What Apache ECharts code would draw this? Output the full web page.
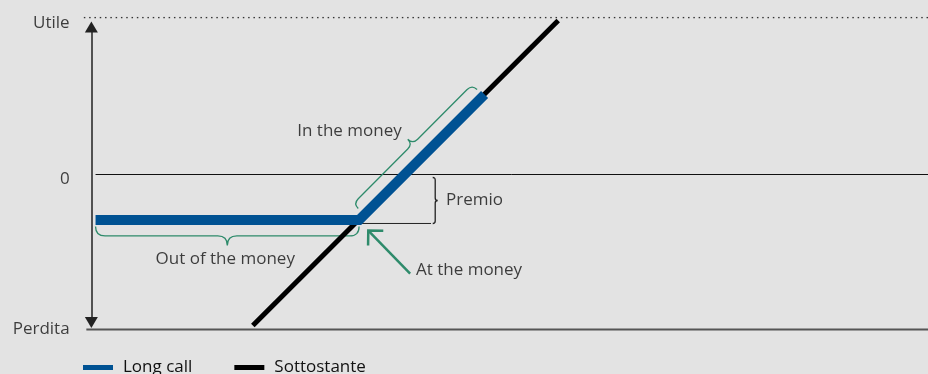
<!DOCTYPE html>
<html>
<head>
<meta charset="utf-8">
<script src="https://cdn.jsdelivr.net/npm/echarts@6/dist/echarts.min.js"></script>
<style>
  html, body { margin: 0; padding: 0; background: #e3e3e3; }
  #chart { width: 928px; height: 374px; }
</style>
</head>
<body>
<div id="chart"></div>
<script>
// payoff lines (x = underlying price, y = profit), abstract units
const longCallX = [0.5, 32, 47];
const longCallY = [-29, -29, 51];
const underlyingX = [19.3, 55.8];
const underlyingY = [-96.2, 98.1];

// horizontal guide levels: Utile / 0 / Perdita
const levelNames = ['Utile', '0', 'Perdita'];
const levelY = [100, 0, -98.7];
const levelStartX = [-0.9, 0.5, -0.6];
const levelEndX = [100, 100, 100];
const levelLabelY = [96.5, -3.2, -98.7];

// premium marker line at strike level
const premiumLineX = [32, 40.6];
const premiumLineY = [-31.2, -31.2];

// braces: from / to
const braceFrom = [[0.5, -33.1], [31.9, -21.7], [40.8, -1.9]];
const braceTo = [[32, -33.1], [46.1, 54.1], [40.8, -31.2]];

// arrow pointing at the strike
const atmArrowFrom = [38.1, -63.1];
const atmArrowTo = [33.1, -35.7];

// annotation texts
const noteText = ['In the money', 'Premio', 'Out of the money', 'At the money'];
const noteX = [37.1, 42.4, 16.0, 38.8];
const noteY = [27.4, -16.6, -54.1, -61.1];

const GREEN = '#2e8b6b';
const BLUE = '#005293';
const TEXT = '#111111';
const FONT = 'Open Sans';
const FONT_SIZE = 17;

const braceStyle = [
  {color: GREEN, w: 9.5, side: 1},
  {color: GREEN, w: 7, side: -1},
  {color: '#222', w: 2.5, side: -1}
];
const noteAlign = ['right', 'left', 'center', 'left'];

const myChart = echarts.init(document.getElementById('chart'));

function segment(xs, ys, style, z) {
  return {
    type: 'line', data: xs.map((x, i) => [x, ys[i]]),
    symbol: 'none', silent: true, lineStyle: style, z: z || 1
  };
}

function bracePath(a, b, w, side) {
  const dx = b[0] - a[0], dy = b[1] - a[1];
  const len = Math.hypot(dx, dy);
  const ux = dx / len, uy = dy / len;
  const nx = -uy * side, ny = ux * side;
  const p = (base, su, sn) => (base[0] + ux * su + nx * sn).toFixed(2) + ' ' + (base[1] + uy * su + ny * sn).toFixed(2);
  const m = [(a[0] + b[0]) / 2, (a[1] + b[1]) / 2];
  return 'M' + a[0] + ' ' + a[1] +
    ' Q' + p(a, 0, w) + ' ' + p(a, w, w) +
    ' L' + p(m, -w, w) +
    ' Q' + p(m, 0, w) + ' ' + p(m, 0, 2 * w) +
    ' Q' + p(m, 0, w) + ' ' + p(m, w, w) +
    ' L' + p(b, -w, w) +
    ' Q' + p(b, 0, w) + ' ' + b[0] + ' ' + b[1];
}

const series = [];

// guide levels
levelNames.forEach((name, i) => {
  const style = i === 0 ? {color: '#333', width: 1.5, type: [1.5, 3.8]}
    : i === 1 ? {color: '#111', width: 1} : {color: '#555', width: 2};
  series.push(segment([levelStartX[i], levelEndX[i]], [levelY[i], levelY[i]], style));
});

// vertical axis with arrows
series.push({
  type: 'line', data: [], silent: true,
  markLine: {
    silent: true, animation: false,
    symbol: ['triangle', 'triangle'], symbolSize: [13, 11],
    label: {show: false},
    lineStyle: {color: '#222', width: 1.5, type: 'solid'},
    data: [[{coord: [0, levelY[2] + 4.5]}, {coord: [0, levelY[0] - 6]}]]
  }
});

series.push(segment(premiumLineX, premiumLineY, {color: '#222', width: 1}));

// braces
series.push({
  type: 'custom', silent: true, z: 2,
  data: braceFrom.map((f, i) => [f[0], f[1], braceTo[i][0], braceTo[i][1]]),
  renderItem: (params, api) => {
    const a = api.coord([api.value(0), api.value(1)]);
    const b = api.coord([api.value(2), api.value(3)]);
    const st = braceStyle[params.dataIndex];
    return {
      type: 'path',
      shape: {pathData: bracePath(a, b, st.w, st.side)},
      style: {stroke: st.color, fill: 'none', lineWidth: 1.3}
    };
  }
});

// At the money arrow
series.push({
  type: 'custom', silent: true, z: 5,
  data: [[atmArrowFrom[0], atmArrowFrom[1], atmArrowTo[0], atmArrowTo[1]]],
  renderItem: (params, api) => {
    const a = api.coord([api.value(0), api.value(1)]);
    const b = api.coord([api.value(2), api.value(3)]);
    const ang = Math.atan2(a[1] - b[1], a[0] - b[0]);
    const L = 15;
    const h1 = [b[0] + L * Math.cos(ang - Math.PI / 4), b[1] + L * Math.sin(ang - Math.PI / 4)];
    const h2 = [b[0] + L * Math.cos(ang + Math.PI / 4), b[1] + L * Math.sin(ang + Math.PI / 4)];
    return {
      type: 'group',
      children: [
        {type: 'line', shape: {x1: a[0], y1: a[1], x2: b[0], y2: b[1]}, style: {stroke: GREEN, lineWidth: 2.5}},
        {type: 'polyline', shape: {points: [h1, b, h2]}, style: {stroke: GREEN, lineWidth: 2.5, fill: 'none'}}
      ]
    };
  }
});

// payoff lines
series.push({
  name: 'Sottostante', type: 'line', symbol: 'none', silent: true, z: 3,
  data: underlyingX.map((x, i) => [x, underlyingY[i]]),
  lineStyle: {color: '#000', width: 5}, itemStyle: {color: '#000'}
});
series.push({
  name: 'Long call', type: 'line', symbol: 'none', silent: true, z: 4,
  data: longCallX.map((x, i) => [x, longCallY[i]]),
  lineStyle: {color: BLUE, width: 10, cap: 'butt', join: 'miter'}, itemStyle: {color: BLUE}
});

// texts
const textLabel = {show: true, color: TEXT, fontSize: FONT_SIZE, fontFamily: FONT, verticalAlign: 'middle'};
series.push({
  type: 'scatter', silent: true, clip: false, symbolSize: 0, z: 6,
  data: levelNames.map((t, i) => ({value: [-2.6, levelLabelY[i]], name: t})),
  label: Object.assign({}, textLabel, {position: 'inside', align: 'right', formatter: p => p.name})
});
series.push({
  type: 'scatter', silent: true, clip: false, symbolSize: 0, z: 6,
  data: noteText.map((t, i) => ({value: [noteX[i], noteY[i]], name: t,
    label: {align: noteAlign[i]}})),
  label: Object.assign({}, textLabel, {position: 'inside', formatter: p => p.name})
});

myChart.setOption({
  animation: false,
  backgroundColor: '#e3e3e3',
  grid: {left: 83, right: 0, top: 17.5, height: 314},
  xAxis: {type: 'value', min: -1, max: 100, show: false},
  yAxis: {type: 'value', min: -100, max: 100, show: false},
  legend: {
    data: ['Long call', 'Sottostante'], left: 83, top: 359, padding: 0,
    icon: 'rect', itemWidth: 30, itemHeight: 5, itemGap: 42,
    textStyle: {color: TEXT, fontSize: FONT_SIZE, fontFamily: FONT, padding: [0, 0, 0, 5]}
  },
  series: series
});
</script>
</body>
</html>
